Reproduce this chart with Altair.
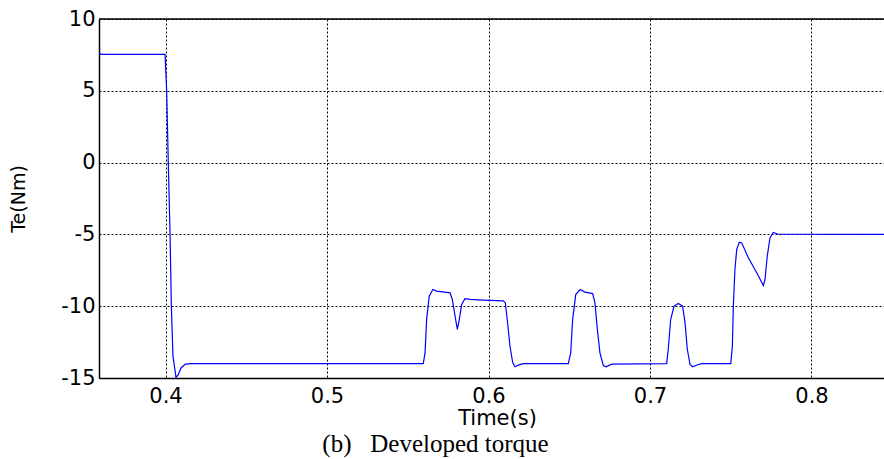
import altair as alt
import pandas as pd

# Time (s) and developed torque Te (Nm)
time_s = [0.3588, 0.3600, 0.3997, 0.4007, 0.4017, 0.4028, 0.4036, 0.4046, 0.4065, 0.4077,
          0.4096, 0.4121, 0.4152, 0.5596, 0.5607, 0.5617, 0.5633, 0.5655, 0.5679, 0.5762,
          0.5776, 0.5793, 0.5807, 0.5819, 0.5834, 0.5854, 0.5885, 0.5968, 0.6092, 0.6104,
          0.6116, 0.6133, 0.6150, 0.6164, 0.6185, 0.6215, 0.6494, 0.6509, 0.6521, 0.6540,
          0.6567, 0.6598, 0.6645, 0.6659, 0.6674, 0.6690, 0.6711, 0.6728, 0.6763, 0.7103,
          0.7113, 0.7128, 0.7149, 0.7175, 0.7202, 0.7217, 0.7231, 0.7248, 0.7264, 0.7299,
          0.7320, 0.7500, 0.7510, 0.7516, 0.7526, 0.7537, 0.7553, 0.7568, 0.7609, 0.7661,
          0.7702, 0.7712, 0.7726, 0.7743, 0.7763, 0.7794, 0.8449]
torque = [7.70, 7.53, 7.53, 5.0, 0.0, -5.0, -10.0, -13.5, -14.95, -14.8,
          -14.3, -14.05, -14.0, -14.0, -13.25, -10.9, -9.3, -8.84, -8.95, -9.07,
          -9.53, -10.7, -11.62, -10.93, -9.88, -9.48, -9.53, -9.58, -9.63, -9.77,
          -10.93, -12.79, -13.94, -14.22, -14.1, -14.0, -14.0, -13.25, -10.93, -9.19,
          -8.84, -9.02, -9.12, -9.77, -11.62, -13.25, -14.13, -14.22, -14.04, -14.0,
          -13.0, -10.93, -10.0, -9.81, -10.0, -11.16, -13.0, -14.06, -14.22, -14.06,
          -14.0, -14.0, -12.79, -10.0, -7.44, -6.05, -5.54, -5.59, -6.63, -7.67,
          -8.56, -8.14, -6.52, -5.24, -4.87, -4.99, -5.0]

x_ticks = [0.4, 0.5, 0.6, 0.7, 0.8]
y_ticks = [-15, -10, -5, 0, 5, 10]
x_domain = [0.3588, 0.8449]
y_domain = [-15, 10]

df = pd.DataFrame({"t": time_s, "Te": torque})

W, H = 785, 359
sans = "DejaVu Sans"

line = alt.Chart(df).mark_line(color="#0000ff", strokeWidth=1.2, clip=True).encode(
    x=alt.X("t:Q",
            scale=alt.Scale(domain=x_domain, nice=False, zero=False),
            axis=alt.Axis(values=x_ticks, format=".1f", title="Time(s)",
                          grid=True, gridColor="#000000", gridDash=[2, 2], gridWidth=1,
                          ticks=False, labelPadding=7, labelFontSize=21, labelFont=sans,
                          labelColor="#000000", domainColor="#000000", domainWidth=1.5,
                          titleFont=sans, titleFontSize=21, titleFontWeight="normal",
                          titleColor="#000000", titleX=398, titleY=46,
                          titleBaseline="alphabetic", titleAlign="center",
                          labelFlush=False)),
    y=alt.Y("Te:Q",
            scale=alt.Scale(domain=y_domain, nice=False, zero=False),
            axis=alt.Axis(values=y_ticks, title="Te(Nm)",
                          labelExpr="datum.value < 0 ? '-' + abs(datum.value) : '' + datum.value",
                          grid=True, gridColor="#000000", gridDash=[2, 2], gridWidth=1,
                          ticks=False, labelPadding=4, labelFontSize=21, labelFont=sans,
                          labelColor="#000000", domainColor="#000000", domainWidth=1.5,
                          titleFont=sans, titleFontSize=19, titleFontWeight="normal",
                          titleColor="#000000", titleX=-75, titleY=H / 2,
                          titleAngle=270, titleBaseline="alphabetic", titleAlign="center",
                          labelFlush=False)),
)

top_border = alt.Chart(df.head(1)).mark_rule(color="#000000", strokeWidth=1.5).encode(
    x=alt.value(0), x2=alt.value(W), y=alt.value(0)
)

chart = alt.layer(line, top_border).properties(
    width=W, height=H,
    autosize=alt.AutoSizeParams(type="none"),
    padding={"left": 99, "top": 19, "right": 0, "bottom": 81},
    title=alt.TitleParams("(b)\u00a0\u00a0\u00a0Developed torque", orient="bottom",
                          font="Liberation Serif", fontSize=25, fontWeight="normal",
                          color="#000000", anchor="middle", dx=-56, offset=4),
).configure_view(stroke=None).configure(background="white")

chart.save("out.html", embed_options={"renderer": "svg", "actions": False})
